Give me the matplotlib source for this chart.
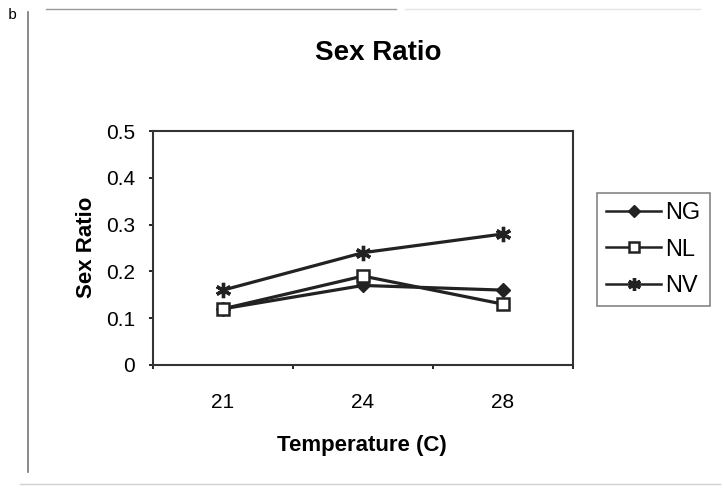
import matplotlib.pyplot as plt
from matplotlib.lines import Line2D

plt.rcParams['font.family'] = ['Liberation Sans', 'DejaVu Sans']

# sex ratio by rearing temperature
temps = ['21', '24', '28']
ng = [0.12, 0.17, 0.16]
nl = [0.12, 0.19, 0.13]
nv = [0.16, 0.24, 0.28]

fig = plt.figure(figsize=(7.23, 4.97), dpi=100)
W, H = 723, 497
ax = fig.add_axes([153 / W, 1 - 365 / H, 420 / W, 234 / H])

xpos = [i + 0.5 for i in range(len(temps))]
col = '#222222'
ax.plot(xpos, ng, color=col, lw=2.3, marker='D', ms=7, mfc=col, mec=col, label='NG')
ax.plot(xpos, nl, color=col, lw=2.3, marker='s', ms=8.5, mfc='white', mec=col, mew=1.8, label='NL')
ax.plot(xpos, nv, color=col, lw=2.3, marker=(6, 2, 0), ms=11, mec=col, mew=2.4, label='NV')

ax.set_xlim(0, 3)
ax.set_ylim(0, 0.5)
ax.set_xticks([0, 1, 2, 3])
ax.set_xticklabels([])
ax.set_xticks(xpos, minor=True)
ax.set_xticklabels(temps, minor=True, fontsize=15)
ax.tick_params(axis='x', which='minor', length=0, pad=20)
ax.tick_params(axis='x', which='major', direction='out', length=3, width=1.2)
ax.set_yticks([0, 0.1, 0.2, 0.3, 0.4, 0.5])
ax.set_yticklabels(['0', '0.1', '0.2', '0.3', '0.4', '0.5'], fontsize=15)
ax.tick_params(axis='y', direction='out', length=3, width=1.2, pad=10)
for s in ax.spines.values():
    s.set_linewidth(1.5)
    s.set_color('#333333')

fig.text(378 / W, 1 - 53 / H, 'Sex Ratio', fontsize=20, fontweight='bold',
         ha='center', va='center')
ax.set_xlabel('Temperature (C)', fontsize=16, fontweight='bold', va='center')
ax.xaxis.set_label_coords(0.498, -(446 - 365) / 234)
ax.set_ylabel('Sex Ratio', fontsize=16, fontweight='bold', va='center')
ax.yaxis.set_label_coords(-(153 - 87) / 420, (365 - 247) / 234)

leg = ax.legend(loc='upper left', bbox_to_anchor=(597 / W, 1 - 193 / H),
                bbox_transform=fig.transFigure, fontsize=17, frameon=True,
                fancybox=False, handlelength=2.3, handletextpad=0.2,
                borderpad=0.4, labelspacing=0.6, borderaxespad=0)
leg.get_frame().set_edgecolor('#666666')
leg.get_frame().set_linewidth(1.2)
for h in leg.legend_handles:
    h.set_linewidth(1.8)
    h.set_markersize(h.get_markersize() * 0.85)

# page frame and panel letter
fig.add_artist(Line2D([28 / W, 28 / W], [1 - 12 / H, 1 - 472 / H],
                      color='#777777', lw=1.2))
fig.add_artist(Line2D([46 / W, 396 / W], [1 - 9 / H, 1 - 9 / H],
                      color='#999999', lw=1))
fig.add_artist(Line2D([405 / W, 700 / W], [1 - 9 / H, 1 - 9 / H],
                      color='#e4e4e4', lw=1))
fig.add_artist(Line2D([20 / W, 720 / W], [1 - 484 / H, 1 - 484 / H],
                      color='#d0d0d0', lw=1))
fig.text(8 / W, 1 - 15 / H, 'b', family='Liberation Mono', fontsize=11, va='center')

fig.savefig('out.png', dpi=100)
